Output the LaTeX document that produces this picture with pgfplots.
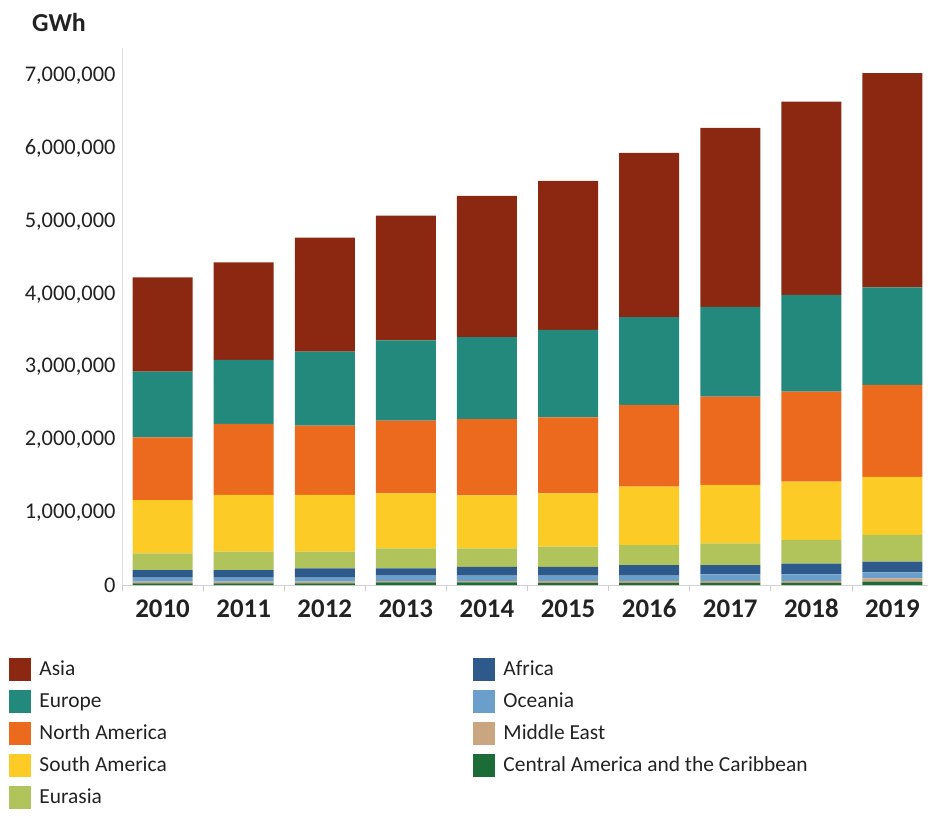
\documentclass[border=0pt]{standalone}
\usepackage{fontspec}
\setmainfont{Carlito}
\usepackage{pgfplots}
\usepackage{pgfplotstable}
\pgfplotsset{compat=1.18}
\definecolor{cAsia}{HTML}{8C2811}
\definecolor{cEur}{HTML}{23897C}
\definecolor{cNA}{HTML}{EC6A1E}
\definecolor{cSA}{HTML}{FCCB25}
\definecolor{cEura}{HTML}{B1C45C}
\definecolor{cAfr}{HTML}{2D5A8A}
\definecolor{cOce}{HTML}{6B9FCB}
\definecolor{cME}{HTML}{C9A680}
\definecolor{cCA}{HTML}{1B6C37}
\definecolor{txt}{HTML}{222222}
\pgfplotstableread{
x CA ME Oce Afr Eura SA NA Eur Asia
0 23000 22000 55000 106000 230000 733000 863000 902000 1298000
1 23000 22000 55000 106000 252000 780000 977000 880000 1344000
2 23000 22000 55000 130000 228000 780000 953000 1018000 1568000
3 35000 20000 73000 102000 275000 756000 999000 1106000 1714000
4 35000 20000 73000 120000 257000 729000 1049000 1128000 1940000
5 30000 25000 73000 120000 279000 734000 1046000 1201000 2049000
6 30000 25000 73000 147000 275000 802000 1124000 1210000 2256000
7 30000 25000 92000 128000 299000 802000 1214000 1234000 2462000
8 30000 25000 92000 146000 326000 802000 1238000 1330000 2659000
9 45000 47000 83000 145000 368000 798000 1265000 1344000 2944000
}\datatable
\begin{document}
\begin{tikzpicture}
\begin{axis}[
  at={(0,0)}, anchor=south west,
  width=811bp, height=537bp, scale only axis,
  clip=false,
  ybar stacked, bar width=60bp,
  xmin=-0.5, xmax=9.5, ymin=0, ymax=7386000,
  axis x line*=bottom, axis y line*=left,
  x axis line style={draw=gray!35, line width=0.8pt},
  y axis line style={draw=gray!25, line width=0.8pt},
  xtick={0,...,9},
  xticklabels={2010,2011,2012,2013,2014,2015,2016,2017,2018,2019},
  x tick label style={font=\fontsize{27}{30}\selectfont\bfseries, text=txt, text height=18bp, text depth=0bp, yshift=-11bp},
  major tick length=0pt,
  extra x ticks={-0.5,0.5,1.5,2.5,3.5,4.5,5.5,6.5,7.5,8.5,9.5},
  extra x tick labels={},
  extra x tick style={major tick length=6bp, tick align=outside, tick style={draw=gray!40, line width=0.8pt}},
  ytick={0,1000000,2000000,3000000,4000000,5000000,6000000,7000000},
  scaled y ticks=false,
  y tick label style={font=\fontsize{22.5}{25}\selectfont, text=txt, xshift=-3bp},
  yticklabel style={/pgf/number format/.cd, fixed, 1000 sep={,}, assume math mode=true},
  legend columns=2,
  legend cell align=left,
  legend style={at={(rel axis cs:-0.139,-0.135)}, anchor=north west, draw=none, fill=none,
    font=\fontsize{21.5}{25}\selectfont, text=txt, inner sep=0pt, row sep=9bp},
  legend image code/.code={\fill[#1, draw=none] (0bp,-11.5bp) rectangle (22bp,11.5bp); \path[draw=none, fill=none] (0bp,0bp) rectangle (28bp,0.1bp);},
]
\addplot[fill=cCA, draw=none, forget plot] table[x=x, y=CA] {\datatable};
\addplot[fill=cME, draw=none, forget plot] table[x=x, y=ME] {\datatable};
\addplot[fill=cOce, draw=none, forget plot] table[x=x, y=Oce] {\datatable};
\addplot[fill=cAfr, draw=none, forget plot] table[x=x, y=Afr] {\datatable};
\addplot[fill=cEura, draw=none, forget plot] table[x=x, y=Eura] {\datatable};
\addplot[fill=cSA, draw=none, forget plot] table[x=x, y=SA] {\datatable};
\addplot[fill=cNA, draw=none, forget plot] table[x=x, y=NA] {\datatable};
\addplot[fill=cEur, draw=none, forget plot] table[x=x, y=Eur] {\datatable};
\addplot[fill=cAsia, draw=none, forget plot] table[x=x, y=Asia] {\datatable};
\addlegendimage{fill=cAsia}\addlegendentry{\makebox[432bp][l]{Asia}}
\addlegendimage{fill=cAfr}\addlegendentry{Africa}
\addlegendimage{fill=cEur}\addlegendentry{Europe}
\addlegendimage{fill=cOce}\addlegendentry{Oceania}
\addlegendimage{fill=cNA}\addlegendentry{North America}
\addlegendimage{fill=cME}\addlegendentry{Middle East}
\addlegendimage{fill=cSA}\addlegendentry{South America}
\addlegendimage{fill=cCA}\addlegendentry{Central America and the Caribbean}
\addlegendimage{fill=cEura}\addlegendentry{Eurasia}
\node[font=\fontsize{26}{30}\selectfont\bfseries, text=txt] at (rel axis cs:-0.0777,1.0466) {GWh};
\end{axis}
\pgfresetboundingbox
\path (-122bp,-231bp) rectangle (806bp,585bp);
\end{tikzpicture}
\end{document}
